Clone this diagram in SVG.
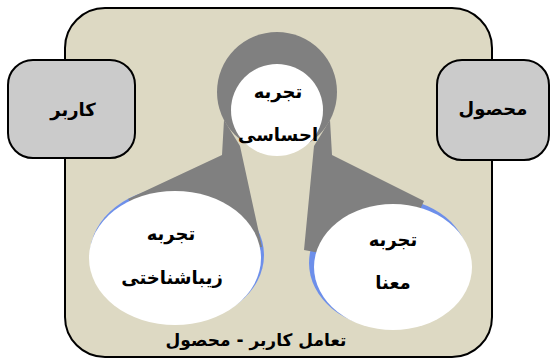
<svg xmlns="http://www.w3.org/2000/svg" width="556" height="360" viewBox="0 0 556 360">
<style>
.t{font-family:"DejaVu Sans","Noto Sans",sans-serif;font-weight:bold;font-size:18px;fill:#000;text-anchor:middle;direction:rtl}
.box{fill:#CBCBCB;stroke:#000;stroke-width:2}
.w{fill:#fff}
.g{fill:#808080}
.b{fill:#6D8FEA}
</style>
<rect width="556" height="360" fill="#fff"/>
<g id="frame">
<rect x="65" y="8" width="427" height="349" rx="40" fill="#DDD9C3" stroke="#000" stroke-width="2"/>
<text class="t" x="256" y="346" style="font-size:17px">تعامل کاربر - محصول</text>
</g>
<g id="user">
<rect class="box" x="8" y="60" width="127" height="98" rx="25"/>
<text class="t" x="73" y="116">کاربر</text>
</g>
<g id="product">
<rect class="box" x="437" y="60" width="112" height="100" rx="25"/>
<text class="t" x="493" y="115">محصول</text>
</g>
<g id="shadows">
<ellipse class="b" cx="177" cy="255" rx="87" ry="68"/>
<ellipse class="b" cx="389" cy="263" rx="80" ry="65"/>
</g>
<g id="connectors">
<polygon class="g" points="224,120 240,146 262,247 176,257 128,199 222,155"/>
<polygon class="g" points="330,120 314,146 304,250 393,267 424,201 332,155"/>
</g>
<g id="sensory">
<circle class="g" cx="277" cy="92" r="60"/>
<circle class="w" cx="277" cy="110" r="46"/>
<text class="t" x="278" y="98">تجربه</text>
<text class="t" x="278" y="141">احساسی</text>
</g>
<g id="aesthetic">
<ellipse class="w" cx="175" cy="258" rx="86" ry="67"/>
<text class="t" x="171" y="240">تجربه</text>
<text class="t" x="172" y="284">زیباشناختی</text>
</g>
<g id="meaning">
<ellipse class="w" cx="393" cy="267" rx="79" ry="63"/>
<rect class="w" x="366" y="318" width="14" height="6"/>
<text class="t" x="393" y="246">تجربه</text>
<text class="t" x="393" y="289">معنا</text>
</g>
</svg>
